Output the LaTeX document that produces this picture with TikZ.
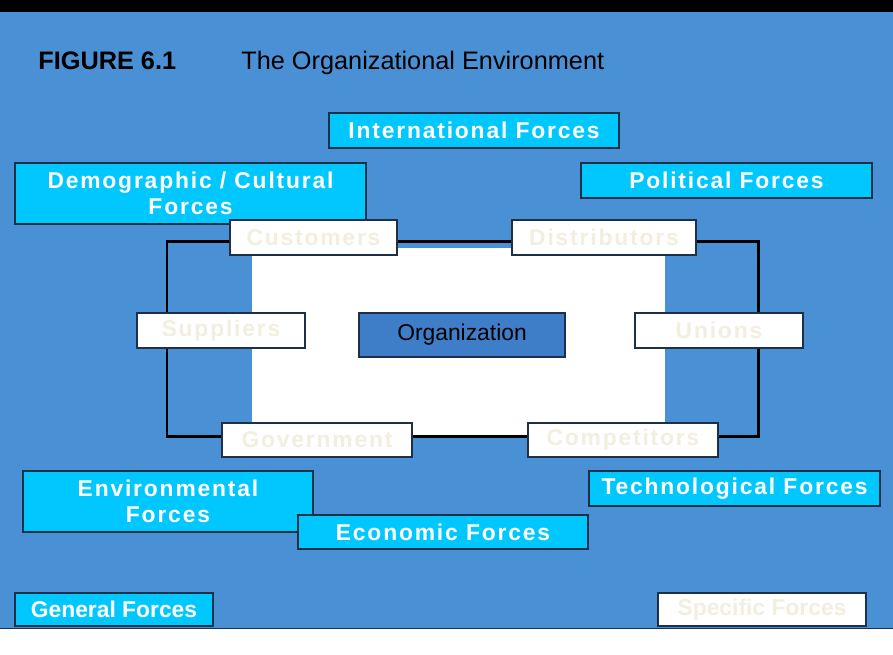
\documentclass[tikz,border=0pt]{standalone}
\usepackage{fontspec}
\setmainfont{Liberation Sans}
\newfontfamily\boxfont[LetterSpace=8]{Liberation Sans Bold}
\newfontfamily\keyfont{Liberation Sans Bold}
\definecolor{slide}{RGB}{74,144,212}
\definecolor{cyanbox}{RGB}{0,200,255}
\definecolor{orgblue}{RGB}{62,126,200}
\definecolor{edge}{RGB}{30,48,72}
\definecolor{cream}{RGB}{242,238,224}
\tikzset{
  force/.style={draw=edge, line width=0.7pt, fill=cyanbox, inner sep=0pt,
    align=center, text=white, font=\boxfont\fontsize{13}{14.5}\selectfont},
  agent/.style={force, fill=white, text=cream},
  key/.style={font=\keyfont\fontsize{13}{14.5}\selectfont},
}
\begin{document}
\begin{tikzpicture}[x=0.02cm, y=-0.02cm]
	\useasboundingbox (0,0) rectangle (893,654);
	% slide background
	\fill[white] (0,0) rectangle (893,654);
	\fill[slide] (0,12) rectangle (893,628);
	\fill[black] (0,0) rectangle (893,12);
	\draw[edge, line width=1pt] (0,628.5) -- (893,628.5);
	% title
	\node[anchor=base west, inner sep=0pt, font=\bfseries\fontsize{14.4}{17}\selectfont] at (38,69) (fig) {FIGURE 6.1};
	\node[anchor=base west, inner sep=0pt, font=\fontsize{14.4}{17}\selectfont] at (241,69) (title) {The Organizational Environment};
	% task environment
	\fill[white] (252,248) rectangle (665,437);
	\draw[black, line width=1.7pt] (167,241) rectangle (758,436);
	% general forces
	\node[force, minimum width=7.02cm, minimum height=1.22cm] at (190.5,193.5) (demo) {Demographic / Cultural\\Forces};
	\node[force, minimum width=5.8cm, minimum height=0.7cm] at (474,130.5) (intl) {International Forces};
	\node[force, minimum width=5.82cm, minimum height=0.7cm] at (726.5,180.5) (pol) {Political Forces};
	\node[force, minimum width=5.8cm, minimum height=1.22cm] at (168,501.5) (env) {Environmental\\Forces};
	\node[force, minimum width=5.8cm, minimum height=0.68cm] at (443,532) (econ) {Economic Forces};
	\node[force, minimum width=5.82cm, minimum height=0.7cm] at (734.5,488.5) (tech) {Technological Forces};
	% specific forces
	\node[agent, minimum width=3.34cm, minimum height=0.7cm] at (313.5,237.5) (cust) {Customers};
	\node[agent, minimum width=3.68cm, minimum height=0.7cm] at (604,237.5) (dist) {Distributors};
	\node[agent, minimum width=3.36cm, minimum height=0.7cm] at (221,330.5) (supp) {Suppliers};
	\node[agent, minimum width=3.36cm, minimum height=0.7cm] at (719,330.5) (union) {Unions};
	\node[agent, minimum width=3.8cm, minimum height=0.68cm] at (317,440) (gov) {Government};
	\node[agent, minimum width=3.8cm, minimum height=0.68cm] at (623,440) (comp) {Competitors};
	\node[draw=edge, line width=0.7pt, fill=orgblue, minimum width=4.12cm, minimum height=0.88cm,
	  font=\fontsize{13}{15}\selectfont] at (462,335) (org) {Organization};
	% legend
	\node[force, key, minimum width=3.96cm, minimum height=0.66cm] at (114,609.5) (gen) {General Forces};
	\node[agent, key, minimum width=4.16cm, minimum height=0.66cm] at (762,609.5) (spec) {Specific Forces};
\end{tikzpicture}
\end{document}
